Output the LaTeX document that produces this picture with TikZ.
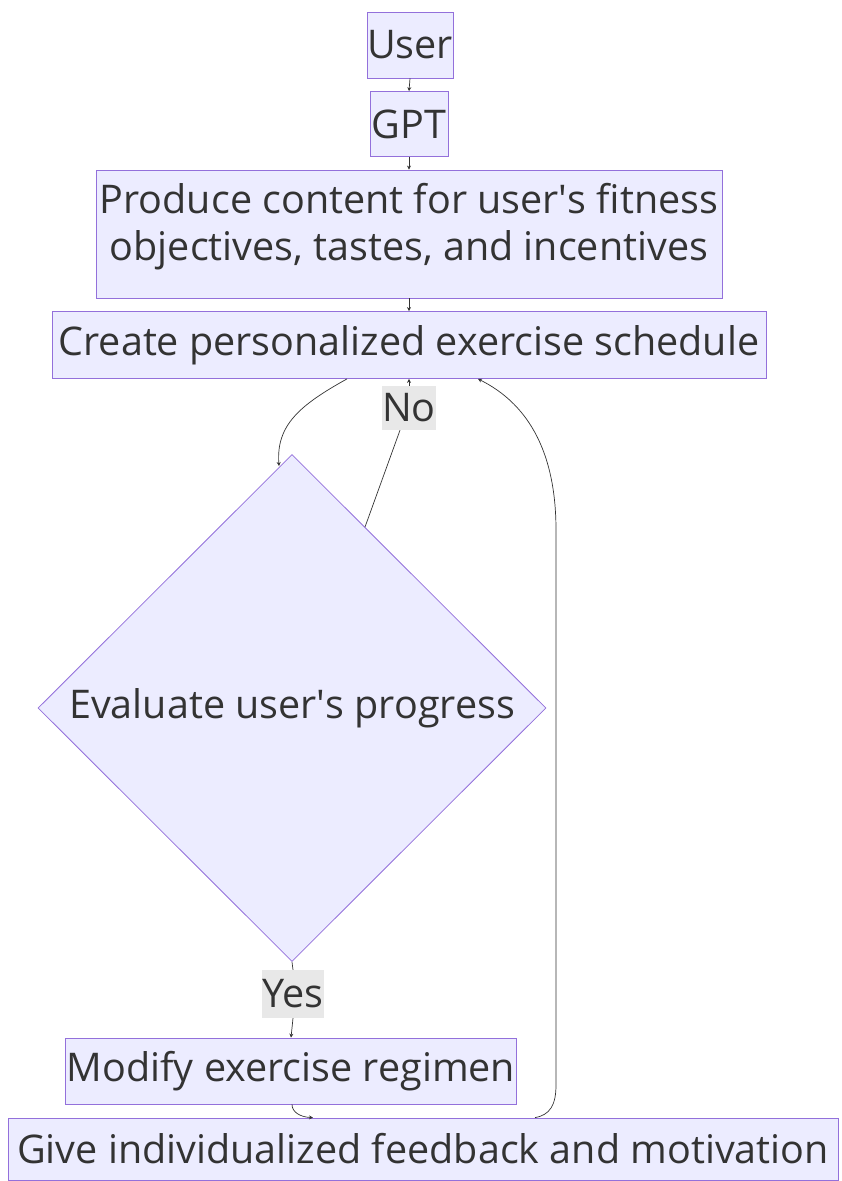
\documentclass[tikz,border=0pt]{standalone}
\usepackage{fontspec}
\setmainfont{Open Sans}
\usetikzlibrary{shapes.geometric,arrows.meta}
\definecolor{nodefill}{HTML}{ECECFF}
\definecolor{nodeline}{HTML}{9370DB}
\definecolor{txt}{HTML}{333333}
\definecolor{lblbg}{HTML}{E8E8E8}
\newcommand{\apos}{\textquotesingle}
\begin{document}
\begin{tikzpicture}[x=1pt,y=-1pt,
 box/.style={draw=nodeline,fill=nodefill,line width=0.8pt,text=txt,inner sep=0pt,font=\fontsize{39.5}{47}\selectfont,align=center},
 elabel/.style={fill=lblbg,text=txt,inner sep=0pt,font=\fontsize{39.5}{47}\selectfont},
 edge/.style={draw=txt,line width=0.7pt,-{Stealth[length=4pt,width=4pt]}},
 plain/.style={draw=txt,line width=0.7pt}]
\useasboundingbox (0,0) rectangle (842,1181);
\node[box,minimum width=86pt,minimum height=66pt] (user) at (410,45) {User};
\node[box,minimum width=78pt,minimum height=65pt] (gpt) at (409,124) {GPT};
\node[box,minimum width=626pt,minimum height=128pt,text depth=24pt] (produce) at (409,234) {Produce content for user\apos s fitness\\objectives, tastes, and incentives};
\node[box,minimum width=714pt,minimum height=67pt] (create) at (409,345) {Create personalized exercise schedule};
\node[box,diamond,minimum width=508pt,minimum height=507pt] (eval) at (292,708) {Evaluate user\apos s progress};
\node[box,minimum width=451pt,minimum height=66pt] (modify) at (291,1071) {Modify exercise regimen};
\node[box,minimum width=830pt,minimum height=62pt] (give) at (423,1149) {Give individualized feedback and motivation};
\node[elabel,minimum width=48pt,minimum height=44pt] (no) at (409,408) {No};
\node[elabel,minimum width=59pt,minimum height=48pt] (yes) at (293,994) {Yes};
\coordinate (evaltopleft) at (279,466);
\coordinate (evalright) at (365,527);
\draw[edge] (user.south) -- (gpt.north);
\draw[edge] (gpt.south) -- (produce.north);
\draw[edge] (produce.south) -- (create.north);
\draw[edge] ([xshift=-62pt]create.south) .. controls (300,405) and (276,425) .. (evaltopleft);
\draw[plain] (evalright) -- ([xshift=-9pt]no.south);
\draw[edge] (no.north) -- (create.south);
\draw[plain] (eval.south) -- (yes.north);
\draw[edge] (yes.south) -- (modify.north);
\draw[edge] ([xshift=1pt]modify.south) .. controls (292,1112) and (300,1117) .. ([xshift=-110pt]give.north);
\draw[edge] ([xshift=112pt]give.north) .. controls (550,1115) and (556,1105) .. (556,1085) -- (556,530) .. controls (556,430) and (510,395) .. ([xshift=69pt]create.south);
\end{tikzpicture}
\end{document}
